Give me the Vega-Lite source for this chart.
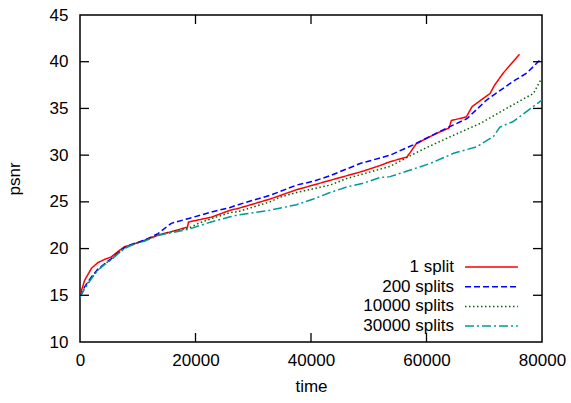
{
  "$schema": "https://vega.github.io/schema/vega-lite/v6.json",
  "width": 462,
  "height": 327,
  "autosize": {"type": "none"},
  "padding": {"left": 80, "top": 15, "right": 29, "bottom": 61},
  "background": "white",
  "config": {
    "font": "Liberation Sans",
    "view": {"stroke": "black", "strokeWidth": 1.5},
    "axis": {
      "grid": false, "domain": false, "ticks": false,
      "labelFont": "Liberation Sans", "labelFontSize": 17, "labelColor": "black",
      "titleFont": "Liberation Sans", "titleFontSize": 17, "titleFontWeight": "normal", "titleColor": "black"
    }
  },
  "layer": [
    {
      "data": {"values": [
        {"s": "1 split", "t": 0, "v": 15.0},
        {"s": "1 split", "t": 800, "v": 16.6},
        {"s": "1 split", "t": 2000, "v": 17.9},
        {"s": "1 split", "t": 3100, "v": 18.5},
        {"s": "1 split", "t": 4300, "v": 18.85},
        {"s": "1 split", "t": 5400, "v": 19.1},
        {"s": "1 split", "t": 6600, "v": 19.7},
        {"s": "1 split", "t": 7700, "v": 20.2},
        {"s": "1 split", "t": 8900, "v": 20.4},
        {"s": "1 split", "t": 11200, "v": 20.9},
        {"s": "1 split", "t": 13500, "v": 21.45},
        {"s": "1 split", "t": 15800, "v": 21.8},
        {"s": "1 split", "t": 18600, "v": 22.3},
        {"s": "1 split", "t": 18800, "v": 22.85},
        {"s": "1 split", "t": 22700, "v": 23.35},
        {"s": "1 split", "t": 26000, "v": 24.1},
        {"s": "1 split", "t": 27400, "v": 24.3},
        {"s": "1 split", "t": 32900, "v": 25.3},
        {"s": "1 split", "t": 37500, "v": 26.3},
        {"s": "1 split", "t": 43300, "v": 27.3},
        {"s": "1 split", "t": 49100, "v": 28.3},
        {"s": "1 split", "t": 52000, "v": 28.9},
        {"s": "1 split", "t": 53700, "v": 29.3},
        {"s": "1 split", "t": 56600, "v": 29.8},
        {"s": "1 split", "t": 57200, "v": 30.3},
        {"s": "1 split", "t": 58200, "v": 31.2},
        {"s": "1 split", "t": 60000, "v": 31.8},
        {"s": "1 split", "t": 62000, "v": 32.4},
        {"s": "1 split", "t": 63900, "v": 32.9},
        {"s": "1 split", "t": 64300, "v": 33.7},
        {"s": "1 split", "t": 66900, "v": 34.1},
        {"s": "1 split", "t": 67900, "v": 35.2},
        {"s": "1 split", "t": 71000, "v": 36.6},
        {"s": "1 split", "t": 71800, "v": 37.5},
        {"s": "1 split", "t": 73300, "v": 38.8},
        {"s": "1 split", "t": 75000, "v": 40.0},
        {"s": "1 split", "t": 76100, "v": 40.8},
        {"s": "200 splits", "t": 0, "v": 14.9},
        {"s": "200 splits", "t": 800, "v": 15.9},
        {"s": "200 splits", "t": 2000, "v": 17.0},
        {"s": "200 splits", "t": 3100, "v": 17.8},
        {"s": "200 splits", "t": 4300, "v": 18.4},
        {"s": "200 splits", "t": 5400, "v": 18.9},
        {"s": "200 splits", "t": 6600, "v": 19.55},
        {"s": "200 splits", "t": 7700, "v": 20.1},
        {"s": "200 splits", "t": 8900, "v": 20.45},
        {"s": "200 splits", "t": 11200, "v": 20.9},
        {"s": "200 splits", "t": 13500, "v": 21.6},
        {"s": "200 splits", "t": 15800, "v": 22.7},
        {"s": "200 splits", "t": 18700, "v": 23.2},
        {"s": "200 splits", "t": 22700, "v": 23.9},
        {"s": "200 splits", "t": 26000, "v": 24.4},
        {"s": "200 splits", "t": 27400, "v": 24.7},
        {"s": "200 splits", "t": 32900, "v": 25.7},
        {"s": "200 splits", "t": 34600, "v": 26.1},
        {"s": "200 splits", "t": 37500, "v": 26.8},
        {"s": "200 splits", "t": 40400, "v": 27.2},
        {"s": "200 splits", "t": 43300, "v": 27.8},
        {"s": "200 splits", "t": 48500, "v": 29.1},
        {"s": "200 splits", "t": 53700, "v": 30.0},
        {"s": "200 splits", "t": 57700, "v": 31.1},
        {"s": "200 splits", "t": 63500, "v": 32.9},
        {"s": "200 splits", "t": 67000, "v": 33.9},
        {"s": "200 splits", "t": 70400, "v": 35.9},
        {"s": "200 splits", "t": 75000, "v": 37.9},
        {"s": "200 splits", "t": 77400, "v": 38.8},
        {"s": "200 splits", "t": 80000, "v": 40.4},
        {"s": "10000 splits", "t": 0, "v": 14.8},
        {"s": "10000 splits", "t": 800, "v": 15.8},
        {"s": "10000 splits", "t": 2000, "v": 16.9},
        {"s": "10000 splits", "t": 3100, "v": 17.7},
        {"s": "10000 splits", "t": 4300, "v": 18.35},
        {"s": "10000 splits", "t": 5400, "v": 18.85},
        {"s": "10000 splits", "t": 6600, "v": 19.5},
        {"s": "10000 splits", "t": 7700, "v": 20.05},
        {"s": "10000 splits", "t": 8900, "v": 20.4},
        {"s": "10000 splits", "t": 11200, "v": 20.85},
        {"s": "10000 splits", "t": 13500, "v": 21.45},
        {"s": "10000 splits", "t": 15800, "v": 21.8},
        {"s": "10000 splits", "t": 18700, "v": 22.15},
        {"s": "10000 splits", "t": 20500, "v": 22.7},
        {"s": "10000 splits", "t": 22700, "v": 23.2},
        {"s": "10000 splits", "t": 26000, "v": 23.85},
        {"s": "10000 splits", "t": 27400, "v": 23.95},
        {"s": "10000 splits", "t": 32900, "v": 25.0},
        {"s": "10000 splits", "t": 34600, "v": 25.5},
        {"s": "10000 splits", "t": 37500, "v": 26.0},
        {"s": "10000 splits", "t": 43300, "v": 26.8},
        {"s": "10000 splits", "t": 46200, "v": 27.5},
        {"s": "10000 splits", "t": 49100, "v": 28.0},
        {"s": "10000 splits", "t": 53700, "v": 28.8},
        {"s": "10000 splits", "t": 57700, "v": 30.1},
        {"s": "10000 splits", "t": 60000, "v": 30.8},
        {"s": "10000 splits", "t": 63500, "v": 31.8},
        {"s": "10000 splits", "t": 69300, "v": 33.4},
        {"s": "10000 splits", "t": 75000, "v": 35.4},
        {"s": "10000 splits", "t": 78500, "v": 36.6},
        {"s": "10000 splits", "t": 80000, "v": 38.3},
        {"s": "30000 splits", "t": 0, "v": 14.8},
        {"s": "30000 splits", "t": 800, "v": 15.7},
        {"s": "30000 splits", "t": 2000, "v": 16.8},
        {"s": "30000 splits", "t": 3100, "v": 17.7},
        {"s": "30000 splits", "t": 4300, "v": 18.3},
        {"s": "30000 splits", "t": 5400, "v": 18.8},
        {"s": "30000 splits", "t": 6600, "v": 19.45},
        {"s": "30000 splits", "t": 7700, "v": 20.0},
        {"s": "30000 splits", "t": 8900, "v": 20.35},
        {"s": "30000 splits", "t": 11200, "v": 20.8},
        {"s": "30000 splits", "t": 13500, "v": 21.4},
        {"s": "30000 splits", "t": 15800, "v": 21.7},
        {"s": "30000 splits", "t": 18700, "v": 22.05},
        {"s": "30000 splits", "t": 22700, "v": 22.85},
        {"s": "30000 splits", "t": 26000, "v": 23.4},
        {"s": "30000 splits", "t": 27400, "v": 23.6},
        {"s": "30000 splits", "t": 32900, "v": 24.1},
        {"s": "30000 splits", "t": 37500, "v": 24.7},
        {"s": "30000 splits", "t": 40400, "v": 25.3},
        {"s": "30000 splits", "t": 43300, "v": 26.0},
        {"s": "30000 splits", "t": 46200, "v": 26.6},
        {"s": "30000 splits", "t": 49100, "v": 27.0},
        {"s": "30000 splits", "t": 51900, "v": 27.6},
        {"s": "30000 splits", "t": 53700, "v": 27.7},
        {"s": "30000 splits", "t": 60600, "v": 29.1},
        {"s": "30000 splits", "t": 64700, "v": 30.2},
        {"s": "30000 splits", "t": 68700, "v": 30.9},
        {"s": "30000 splits", "t": 71600, "v": 32.0},
        {"s": "30000 splits", "t": 72700, "v": 33.0},
        {"s": "30000 splits", "t": 75000, "v": 33.6},
        {"s": "30000 splits", "t": 80000, "v": 35.9}
      ]},
      "mark": {"type": "line", "strokeWidth": 1.5, "clip": true},
      "encoding": {
        "x": {"field": "t", "type": "quantitative", "title": "time", "scale": {"domain": [0, 80000], "nice": false},
              "axis": {"values": [0, 20000, 40000, 60000, 80000], "format": "d", "labelPadding": 10, "titlePadding": 10, "labelFlush": false}},
        "y": {"field": "v", "type": "quantitative", "title": "psnr", "scale": {"domain": [10, 45], "nice": false, "zero": false},
              "axis": {"values": [10, 15, 20, 25, 30, 35, 40, 45], "labelPadding": 12, "titlePadding": 26, "labelFlush": false}},
        "color": {"field": "s", "type": "nominal", "title": null,
                  "scale": {"domain": ["1 split", "200 splits", "10000 splits", "30000 splits"], "range": ["#ff0000", "#0000ff", "#006400", "#009999"]},
                  "legend": {"orient": "none", "legendX": 376.5, "legendY": 243.5, "padding": 0, "labelAlign": "right", "labelOffset": -19.5,
                             "labelFontSize": 17, "labelFont": "Liberation Sans", "labelColor": "black", "symbolType": "M0,0H20", "symbolSize": 28,
                             "symbolStrokeWidth": 1.5, "rowPadding": 1.7, "labelLimit": 300}},
        "strokeDash": {"field": "s", "type": "nominal", "title": null,
                       "scale": {"domain": ["1 split", "200 splits", "10000 splits", "30000 splits"], "range": [[1, 0], [6, 3], [1.5, 2.5], [9, 3, 2, 3]]}},
        "order": {"field": "t", "type": "quantitative"}
      }
    },
    {
      "data": {"values": [{"t": 20000}, {"t": 40000}, {"t": 60000}]},
      "mark": {"type": "tick", "orient": "vertical", "size": 18, "thickness": 1.3, "color": "black", "opacity": 1, "clip": true},
      "encoding": {
        "x": {"field": "t", "type": "quantitative", "title": "time"},
        "y": {"datum": 10, "type": "quantitative", "title": "psnr"}
      }
    },
    {
      "data": {"values": [{"t": 20000}, {"t": 40000}, {"t": 60000}]},
      "mark": {"type": "tick", "orient": "vertical", "size": 18, "thickness": 1.3, "color": "black", "opacity": 1, "clip": true},
      "encoding": {
        "x": {"field": "t", "type": "quantitative", "title": "time"},
        "y": {"datum": 45, "type": "quantitative", "title": "psnr"}
      }
    },
    {
      "data": {"values": [{"v": 15}, {"v": 20}, {"v": 25}, {"v": 30}, {"v": 35}, {"v": 40}]},
      "mark": {"type": "tick", "orient": "horizontal", "size": 18, "thickness": 1.3, "color": "black", "opacity": 1, "clip": true},
      "encoding": {
        "y": {"field": "v", "type": "quantitative", "title": "psnr"},
        "x": {"datum": 0, "type": "quantitative", "title": "time"}
      }
    },
    {
      "data": {"values": [{"v": 15}, {"v": 20}, {"v": 25}, {"v": 30}, {"v": 35}, {"v": 40}]},
      "mark": {"type": "tick", "orient": "horizontal", "size": 18, "thickness": 1.3, "color": "black", "opacity": 1, "clip": true},
      "encoding": {
        "y": {"field": "v", "type": "quantitative", "title": "psnr"},
        "x": {"datum": 80000, "type": "quantitative", "title": "time"}
      }
    }
  ]
}
